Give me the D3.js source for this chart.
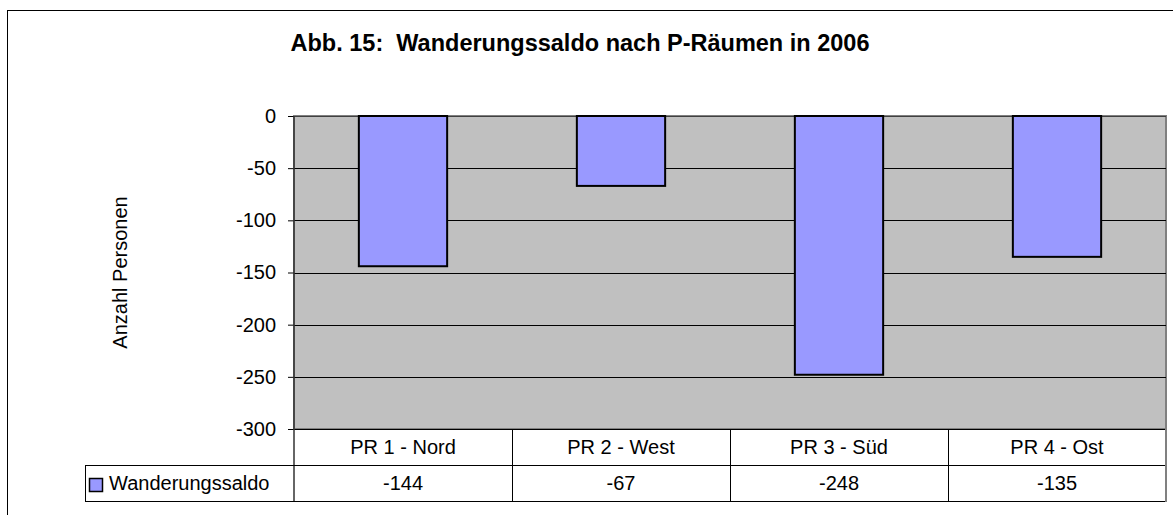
<!DOCTYPE html>
<html>
<head>
<meta charset="utf-8">
<script src="https://cdn.jsdelivr.net/npm/d3@7"></script>
<style>
  html, body { margin: 0; padding: 0; background: #fff; }
  svg { display: block; font-family: "Liberation Sans", Arial, sans-serif; }
</style>
</head>
<body>
<script>
const categories = ["PR 1 - Nord", "PR 2 - West", "PR 3 - Süd", "PR 4 - Ost"];
const seriesName = "Wanderungssaldo";
const values = [-144, -67, -248, -135];
const yTicks = [0, -50, -100, -150, -200, -250, -300];
const yTickLabels = ["0", "-50", "-100", "-150", "-200", "-250", "-300"];
const titleText = "Abb. 15:  Wanderungssaldo nach P-Räumen in 2006";
const yTitle = "Anzahl Personen";

const W = 1173, H = 515;
const plot = { left: 294, right: 1166, top: 116, bottom: 429 };
const rowH = 36;

const svg = d3.select("body").append("svg").attr("width", W).attr("height", H);

// outer chart frame (extends past the window edges)
svg.append("rect").attr("x", 7.5).attr("y", 10.5).attr("width", 1300).attr("height", 700)
  .attr("fill", "#fff").attr("stroke", "#000").attr("stroke-width", 1);

// title
svg.append("text").attr("x", 580).attr("y", 51).attr("text-anchor", "middle")
  .attr("font-size", 23.5).attr("font-weight", "bold").style("white-space", "pre")
  .attr("fill", "#000").text(titleText);

const x = d3.scaleBand().domain(categories).range([plot.left, plot.right])
  .paddingInner(0.595).paddingOuter(0.2975);
const xCell = d3.scaleBand().domain(categories).range([plot.left, plot.right]);
const y = d3.scaleLinear().domain([0, -300]).range([plot.top, plot.bottom]);

// plot background
svg.append("rect").attr("x", plot.left).attr("y", plot.top)
  .attr("width", plot.right - plot.left).attr("height", plot.bottom - plot.top)
  .attr("fill", "#C0C0C0").attr("stroke", "#808080").attr("stroke-width", 2);

// gridlines
svg.append("g").selectAll("line").data(yTicks).join("line")
  .attr("x1", plot.left).attr("x2", plot.right)
  .attr("y1", d => Math.round(y(d)) + 0.5).attr("y2", d => Math.round(y(d)) + 0.5)
  .attr("stroke", d => d === 0 ? "#404040" : "#000").attr("stroke-width", 1);

// bars
svg.append("g").selectAll("rect").data(values).join("rect")
  .attr("x", (d, i) => x(categories[i]))
  .attr("y", d => y(Math.max(0, d)))
  .attr("width", x.bandwidth())
  .attr("height", d => Math.abs(y(d) - y(0)))
  .attr("fill", "#9999FF").attr("stroke", "#000").attr("stroke-width", 2);

// y axis
const yAxis = d3.axisLeft(y).tickValues(yTicks).tickSize(6).tickPadding(12)
  .tickFormat((d, i) => yTickLabels[i]);
const gy = svg.append("g").attr("transform", `translate(${plot.left},0)`).call(yAxis);
gy.select(".domain").remove();
gy.selectAll(".tick line").attr("stroke", "#000");
gy.selectAll(".tick text").attr("font-size", 20).attr("fill", "#000")
  .attr("font-family", "Liberation Sans, Arial, sans-serif");
// axis line extends through the data table
svg.append("line").attr("x1", plot.left).attr("x2", plot.left)
  .attr("y1", plot.top).attr("y2", plot.bottom + 2 * rowH)
  .attr("stroke", "#333").attr("stroke-width", 1.5);

// y axis title
svg.append("text").attr("transform", `translate(127,${(plot.top + plot.bottom) / 2}) rotate(-90)`)
  .attr("text-anchor", "middle").attr("font-size", 20).attr("fill", "#000").text(yTitle);

// data table
const t = svg.append("g");
const r1 = plot.bottom, r2 = plot.bottom + rowH, r3 = plot.bottom + 2 * rowH;
t.append("line").attr("x1", 85).attr("x2", plot.right).attr("y1", r2 + 0.5).attr("y2", r2 + 0.5)
  .attr("stroke", "#000");
t.append("line").attr("x1", 85).attr("x2", plot.right).attr("y1", r3 + 0.5).attr("y2", r3 + 0.5)
  .attr("stroke", "#000");
t.append("line").attr("x1", 85.5).attr("x2", 85.5).attr("y1", r2).attr("y2", r3)
  .attr("stroke", "#000");
t.selectAll("line.div").data(categories.slice(1)).join("line").attr("class", "div")
  .attr("x1", d => Math.round(xCell(d)) + 0.5).attr("x2", d => Math.round(xCell(d)) + 0.5)
  .attr("y1", r1).attr("y2", r3).attr("stroke", "#000");
t.append("line").attr("x1", plot.right).attr("x2", plot.right).attr("y1", r1).attr("y2", r3 + 1)
  .attr("stroke", "#808080").attr("stroke-width", 2);

t.selectAll("text.cat").data(categories).join("text").attr("class", "cat")
  .attr("x", d => xCell(d) + xCell.bandwidth() / 2).attr("y", r1 + rowH / 2).attr("dy", "0.36em")
  .attr("text-anchor", "middle").attr("font-size", 20).attr("fill", "#000").text(d => d);
t.selectAll("text.val").data(values).join("text").attr("class", "val")
  .attr("x", (d, i) => xCell(categories[i]) + xCell.bandwidth() / 2).attr("y", r2 + rowH / 2).attr("dy", "0.36em")
  .attr("text-anchor", "middle").attr("font-size", 20).attr("fill", "#000").text(d => String(d));

// legend key in table
t.append("rect").attr("x", 89.5).attr("y", 478.5).attr("width", 13).attr("height", 13)
  .attr("fill", "#9999FF").attr("stroke", "#000").attr("stroke-width", 1.5);
t.append("text").attr("x", 109).attr("y", r2 + rowH / 2).attr("dy", "0.36em")
  .attr("font-size", 20).attr("fill", "#000").text(seriesName);
</script>
</body>
</html>
